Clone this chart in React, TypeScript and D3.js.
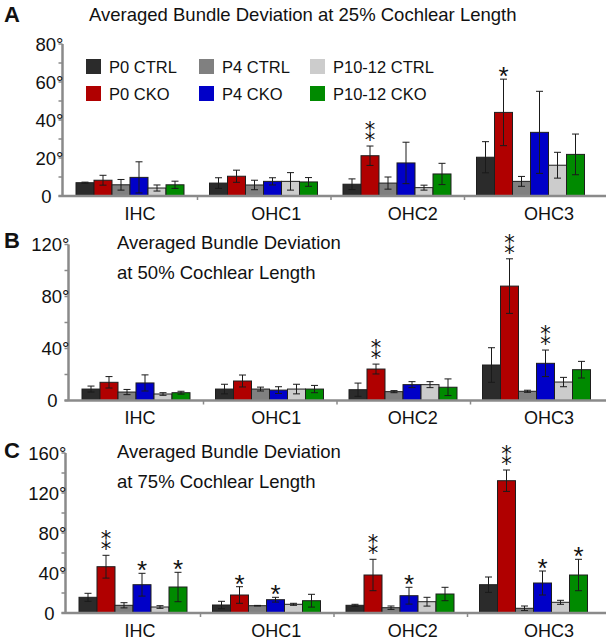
import React from "react";
import * as d3 from "d3";

const categories = ["IHC", "OHC1", "OHC2", "OHC3"];
const series = ["P0 CTRL", "P0 CKO", "P4 CTRL", "P4 CKO", "P10-12 CTRL", "P10-12 CKO"];
const seriesColors = ["#2b2b2b", "#b00000", "#808080", "#0000c8", "#cccccc", "#008a00"];

// 25% cochlear length (rows: categories, cols: series)
const means25 = [
  [7.0, 8.3, 5.9, 9.8, 4.2, 5.9],
  [6.8, 10.4, 5.8, 7.7, 7.7, 7.4],
  [6.2, 21.2, 6.8, 17.4, 4.4, 11.6],
  [20.4, 44.0, 7.7, 33.5, 16.2, 21.9],
];
const errors25 = [
  [0.3, 2.6, 2.8, 8.2, 1.6, 1.9],
  [2.8, 3.2, 2.5, 1.9, 4.6, 2.3],
  [2.8, 5.1, 3.2, 10.9, 1.3, 5.6],
  [8.2, 17.5, 2.6, 21.6, 6.8, 10.7],
];
const stars25 = [
  ["", "", "", "", "", ""],
  ["", "", "", "", "", ""],
  ["", "**", "", "", "", ""],
  ["", "*", "", "", "", ""],
];

// 50% cochlear length
const means50 = [
  [8.8, 14.0, 6.5, 13.5, 5.0, 6.0],
  [8.8, 15.0, 8.8, 8.0, 8.8, 8.8],
  [8.3, 24.2, 6.8, 12.2, 12.2, 10.2],
  [27.3, 88.0, 7.1, 28.6, 14.2, 23.7],
];
const errors50 = [
  [2.3, 4.4, 2.0, 6.2, 1.0, 1.1],
  [3.7, 4.6, 1.5, 2.6, 3.7, 2.8],
  [5.1, 3.8, 0.8, 2.3, 2.3, 6.4],
  [13.3, 21.0, 0.8, 10.2, 3.6, 6.4],
];
const stars50 = [
  ["", "", "", "", "", ""],
  ["", "", "", "", "", ""],
  ["", "**", "", "", "", ""],
  ["", "**", "", "**", "", ""],
];

// 75% cochlear length
const means75 = [
  [15.7, 46.3, 7.7, 28.3, 6.0, 26.0],
  [8.0, 18.0, 7.3, 13.3, 8.7, 12.3],
  [7.7, 38.0, 5.3, 17.3, 11.3, 19.0],
  [28.3, 132.3, 4.7, 30.0, 10.7, 38.0],
];
const errors75 = [
  [4.0, 11.4, 2.6, 11.4, 1.3, 14.7],
  [3.7, 8.3, 0.3, 2.4, 1.0, 6.4],
  [1.0, 15.7, 1.7, 8.4, 4.4, 6.7],
  [7.7, 10.7, 2.3, 12.0, 2.0, 15.7],
];
const stars75 = [
  ["", "**", "", "*", "", "*"],
  ["", "*", "", "*", "", ""],
  ["", "**", "", "*", "", ""],
  ["", "**", "", "*", "", "*"],
];

const FONT = "'Liberation Sans', Arial, Helvetica, sans-serif";
const GROUP_STEP = 133.5;
const AXIS_COLOR = "#8a8a8a";

type PanelCfg = {
  letter: string;
  letterY: number;
  titleLines: string[];
  titleX: number;
  titleY: number;
  titleGap: number;
  means: number[][];
  errors: number[][];
  stars: string[][];
  yMax: number;
  labelStep: number;
  minorStep: number;
  y0: number;
  yTop: number;
  gx0: number;
  legend: boolean;
};

const panels: PanelCfg[] = [
  {
    letter: "A", letterY: 22,
    titleLines: ["Averaged Bundle Deviation at 25% Cochlear Length"],
    titleX: 89, titleY: 21, titleGap: 0,
    means: means25, errors: errors25, stars: stars25,
    yMax: 80, labelStep: 20, minorStep: 10,
    y0: 196, yTop: 44, gx0: 64, legend: true,
  },
  {
    letter: "B", letterY: 248,
    titleLines: ["Averaged Bundle Deviation", "at 50% Cochlear Length"],
    titleX: 117, titleY: 249, titleGap: 30,
    means: means50, errors: errors50, stars: stars50,
    yMax: 120, labelStep: 40, minorStep: 20,
    y0: 400.5, yTop: 244.5, gx0: 70, legend: false,
  },
  {
    letter: "C", letterY: 458,
    titleLines: ["Averaged Bundle Deviation", "at 75% Cochlear Length"],
    titleX: 117, titleY: 458, titleGap: 30,
    means: means75, errors: errors75, stars: stars75,
    yMax: 160, labelStep: 40, minorStep: 20,
    y0: 613, yTop: 453, gx0: 67, legend: false,
  },
];

function Panel({ cfg }: { cfg: PanelCfg }) {
  const x = d3.scaleBand<string>().domain(categories).range([cfg.gx0, cfg.gx0 + categories.length * GROUP_STEP]);
  const xi = d3.scaleBand<string>().domain(series).range([12, 120]);
  const y = d3.scaleLinear().domain([0, cfg.yMax]).range([cfg.y0, cfg.yTop]);
  const xl = d3.scalePoint<string>().domain(categories).range([140, 549]);
  const axisX = cfg.gx0 - 1.5;
  const minor = d3.range(0, cfg.yMax + 1e-6, cfg.minorStep);
  const major = d3.range(0, cfg.yMax + 1e-6, cfg.labelStep);
  const bw = xi.bandwidth();
  const starFs = 26;

  return (
    <g>
      <text x={4} y={cfg.letterY} fontFamily={FONT} fontWeight="bold" fontSize={22} fill="#111">{cfg.letter}</text>
      {cfg.titleLines.map((t, i) => (
        <text key={i} x={cfg.titleX} y={cfg.titleY + i * cfg.titleGap} fontFamily={FONT} fontSize={18.5} fill="#111">{t}</text>
      ))}

      {categories.map((c, ci) =>
        series.map((s, si) => {
          const m = cfg.means[ci][si];
          const e = cfg.errors[ci][si];
          const bx = (x(c) as number) + (xi(s) as number);
          const cx = bx + bw / 2;
          const st = cfg.stars[ci][si];
          const errTop = y(m + e);
          const errBot = y(Math.max(0, m - e));
          return (
            <g key={c + s}>
              <rect x={bx} y={y(m)} width={bw} height={cfg.y0 - y(m)} fill={seriesColors[si]} stroke="#1e1e1e" strokeWidth={1} />
              <line x1={cx} x2={cx} y1={errBot} y2={errTop} stroke="#1a1a1a" strokeWidth={1} />
              <line x1={cx - 3.5} x2={cx + 3.5} y1={errTop} y2={errTop} stroke="#1a1a1a" strokeWidth={1} />
              <line x1={cx - 3.5} x2={cx + 3.5} y1={errBot} y2={errBot} stroke="#1a1a1a" strokeWidth={1} />
              {st === "*" && (
                <text x={cx} y={errTop - 9 + starFs * 0.57} textAnchor="middle" fontFamily={FONT} fontSize={starFs} fill="#111">*</text>
              )}
              {st === "**" && (
                <text x={cx} y={errTop - 5} textAnchor="middle" fontFamily="'DejaVu Sans', sans-serif" fontSize={21} fill="#111">⁑</text>
              )}
            </g>
          );
        })
      )}

      {/* y axis */}
      <line x1={axisX} x2={axisX} y1={cfg.y0} y2={y(cfg.yMax)} stroke={AXIS_COLOR} strokeWidth={2.5} />
      {minor.map((v) => (
        <line key={"m" + v} x1={axisX - 4} x2={axisX} y1={y(v)} y2={y(v)} stroke={AXIS_COLOR} strokeWidth={1.5} />
      ))}
      {major.map((v) => (
        <text key={"l" + v} x={v === 0 ? axisX - 11 : axisX + 1} y={y(v) + 6.5} textAnchor="end" fontFamily={FONT} fontSize={18.5} fill="#111">
          {v === 0 ? "0" : `${v}°`}
        </text>
      ))}

      {/* x axis */}
      <line x1={axisX - 4} x2={606} y1={cfg.y0} y2={cfg.y0} stroke={AXIS_COLOR} strokeWidth={2.5} />
      {categories.slice(1).map((c) => (
        <line key={"t" + c} x1={x(c) as number} x2={x(c) as number} y1={cfg.y0} y2={cfg.y0 + 4} stroke={AXIS_COLOR} strokeWidth={1.5} />
      ))}
      {categories.map((c) => (
        <text key={"c" + c} x={xl(c) as number} y={cfg.y0 + 23.5} textAnchor="middle" fontFamily={FONT} fontSize={18} fill="#111">{c}</text>
      ))}

      {cfg.legend &&
        series.map((s, i) => {
          const col = Math.floor(i / 2);
          const row = i % 2;
          const lx = [86, 199, 310][col];
          const ly = [59, 86][row];
          return (
            <g key={"lg" + s}>
              <rect x={lx} y={ly} width={15} height={15} fill={seriesColors[i]} />
              <text x={lx + 23} y={ly + 13.5} fontFamily={FONT} fontSize={16.5} fill="#111">{s}</text>
            </g>
          );
        })}
    </g>
  );
}

export default function App() {
  return (
    <svg width={610} height={640} viewBox="0 0 610 640" style={{ position: "absolute", left: 0, top: 0, background: "#fff" }}>
      <rect x={0} y={0} width={610} height={640} fill="#fff" />
      {panels.map((p) => (
        <Panel key={p.letter} cfg={p} />
      ))}
    </svg>
  );
}
